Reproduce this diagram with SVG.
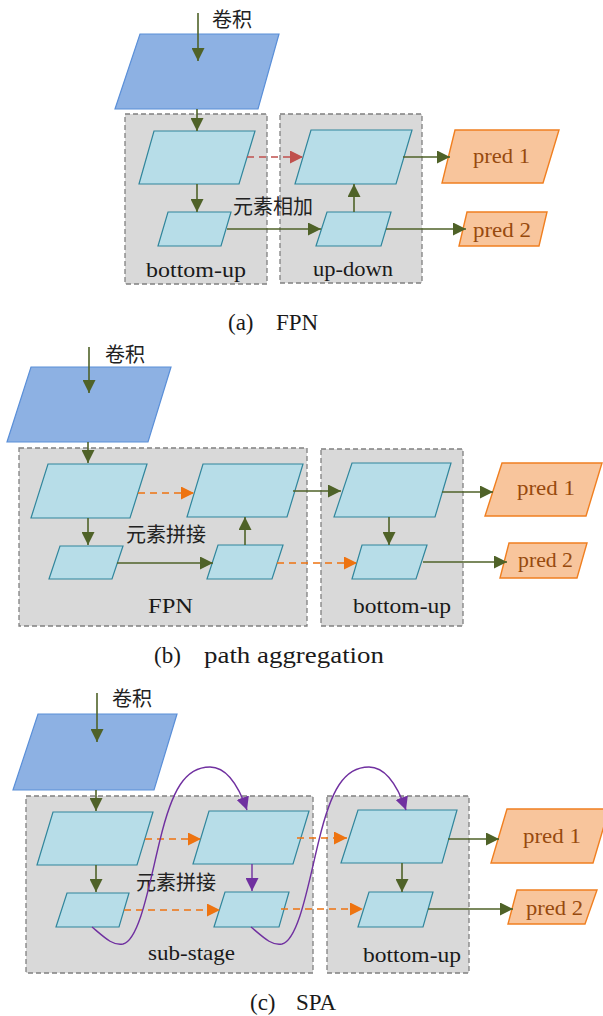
<svg xmlns="http://www.w3.org/2000/svg" width="603" height="1016" viewBox="0 0 603 1016">
<defs>
<marker id="ag" viewBox="0 0 10 10" refX="10" refY="5" markerWidth="13" markerHeight="13" markerUnits="userSpaceOnUse" orient="auto"><path d="M0,0 L10,5 L0,10 z" fill="#4F6228"/></marker>
<marker id="ar" viewBox="0 0 10 10" refX="10" refY="5" markerWidth="13" markerHeight="13" markerUnits="userSpaceOnUse" orient="auto"><path d="M0,0 L10,5 L0,10 z" fill="#C0504D"/></marker>
<marker id="ao" viewBox="0 0 10 10" refX="10" refY="5" markerWidth="13" markerHeight="13" markerUnits="userSpaceOnUse" orient="auto"><path d="M0,0 L10,5 L0,10 z" fill="#EE7310"/></marker>
<marker id="ap" viewBox="0 0 10 10" refX="10" refY="5" markerWidth="13" markerHeight="13" markerUnits="userSpaceOnUse" orient="auto"><path d="M0,0 L10,5 L0,10 z" fill="#7030A0"/></marker>
</defs>
<style>
.grp{fill:#D9D9D9;stroke:#808080;stroke-width:1.3;stroke-dasharray:5,3}
.blue{fill:#8DB1E3;stroke:#5A8FD8;stroke-width:1.2}
.cyan{fill:#B7DDE8;stroke:#31869C;stroke-width:1.2}
.pred{fill:#F8C59C;stroke:#F07F20;stroke-width:1.4}
.g{stroke:#4F6228;stroke-width:1.6;fill:none;marker-end:url(#ag)}
.r{stroke:#C0504D;stroke-width:1.6;fill:none;stroke-dasharray:7,5;marker-end:url(#ar)}
.o{stroke:#EE7310;stroke-width:1.6;fill:none;stroke-dasharray:7,5;marker-end:url(#ao)}
.p{stroke:#7030A0;stroke-width:1.4;fill:none;marker-end:url(#ap)}
.lbl{font-family:"Liberation Serif","Times New Roman","DejaVu Serif",serif;font-size:22px;fill:#1a1a1a}
.pt{font-family:"Liberation Serif","Times New Roman","DejaVu Serif",serif;font-size:22px;fill:#974A0E}
.cap{font-family:"Liberation Serif","Times New Roman","DejaVu Serif",serif;font-size:23px;fill:#1a1a1a}
.cjk{font-family:"Noto Sans CJK SC",sans-serif;font-size:20px;fill:#222}
</style>

<!-- ===== (a) FPN ===== -->
<g id="a-group-bottomup"><rect class="grp" x="125" y="114" width="142" height="170"/><text class="lbl" x="146" y="277" textLength="100" lengthAdjust="spacingAndGlyphs">bottom-up</text></g>
<g id="a-group-updown"><rect class="grp" x="280" y="114" width="142" height="169"/><text class="lbl" x="313" y="276" textLength="80" lengthAdjust="spacingAndGlyphs">up-down</text></g>
<g id="a-input"><polygon class="blue" points="140,34 279,34 258,109 115,109"/></g>
<g id="a-c1"><polygon class="cyan" points="154,131 255,131 239,184 139,184"/></g>
<g id="a-c2"><polygon class="cyan" points="168,212 231,212 221,246 158,246"/></g>
<g id="a-c3"><polygon class="cyan" points="311,130 412,130 396,184 295,184"/></g>
<g id="a-c4"><polygon class="cyan" points="327,212 391,212 381,246 316,246"/></g>
<g id="a-pred1"><polygon class="pred" points="455,130 559,130 543,183 442,183"/><text class="pt" x="473" y="163" textLength="57" lengthAdjust="spacingAndGlyphs">pred 1</text></g>
<g id="a-pred2"><polygon class="pred" points="467,212 547,212 539,246 459,246"/><text class="pt" x="473" y="237" textLength="58" lengthAdjust="spacingAndGlyphs">pred 2</text></g>
<g id="a-labels"><text class="cjk" x="212" y="27">卷积</text><text class="cjk" x="233" y="214">元素相加</text></g>
<g id="a-connectors">
<line class="g" x1="198" y1="13" x2="198" y2="61"/>
<line class="g" x1="197" y1="109" x2="197" y2="131"/>
<line class="g" x1="197" y1="184" x2="197" y2="212"/>
<line class="r" x1="247" y1="157" x2="303" y2="157"/>
<line class="g" x1="227" y1="229" x2="321" y2="229"/>
<line class="g" x1="354" y1="212" x2="354" y2="184"/>
<line class="g" x1="403" y1="157" x2="450" y2="157"/>
<line class="g" x1="386" y1="229" x2="466" y2="229"/>
</g>
<g id="a-caption"><text class="cap" x="228" y="330">(a)</text><text class="cap" x="276" y="330">FPN</text></g>

<!-- ===== (b) path aggregation ===== -->
<g id="b-group-fpn"><rect class="grp" x="19" y="448" width="288" height="178"/><text class="lbl" x="148" y="613" textLength="45" lengthAdjust="spacingAndGlyphs">FPN</text></g>
<g id="b-group-bottomup"><rect class="grp" x="321" y="449" width="142" height="177"/><text class="lbl" x="353" y="613" textLength="98" lengthAdjust="spacingAndGlyphs">bottom-up</text></g>
<g id="b-input"><polygon class="blue" points="31,367 171,367 148,442 7,442"/></g>
<g id="b-c1"><polygon class="cyan" points="48,464 147,464 130,518 31,518"/></g>
<g id="b-c2"><polygon class="cyan" points="60,546 123,546 112,579 49,579"/></g>
<g id="b-c3"><polygon class="cyan" points="203,464 303,464 287,517 187,517"/></g>
<g id="b-c4"><polygon class="cyan" points="218,545 283,545 272,579 207,579"/></g>
<g id="b-c5"><polygon class="cyan" points="352,463 451,463 435,517 334,517"/></g>
<g id="b-c6"><polygon class="cyan" points="362,545 427,545 416,579 352,579"/></g>
<g id="b-pred1"><polygon class="pred" points="502,463 602,463 586,516 485,516"/><text class="pt" x="517" y="495" textLength="58" lengthAdjust="spacingAndGlyphs">pred 1</text></g>
<g id="b-pred2"><polygon class="pred" points="509,543 587,543 577,578 500,578"/><text class="pt" x="518" y="567" textLength="55" lengthAdjust="spacingAndGlyphs">pred 2</text></g>
<g id="b-labels"><text class="cjk" x="126" y="542">元素拼接</text><text class="cjk" x="105" y="362">卷积</text></g>
<g id="b-connectors">
<line class="g" x1="89" y1="347" x2="89" y2="393"/>
<line class="g" x1="88" y1="442" x2="88" y2="463"/>
<line class="g" x1="88" y1="518" x2="88" y2="545"/>
<line class="o" x1="138" y1="493" x2="194" y2="493"/>
<line class="g" x1="117" y1="563" x2="213" y2="563"/>
<line class="g" x1="245" y1="545" x2="245" y2="517"/>
<line class="g" x1="293" y1="491" x2="341" y2="491"/>
<line class="o" x1="277" y1="563" x2="357" y2="563"/>
<line class="g" x1="389" y1="517" x2="389" y2="545"/>
<line class="g" x1="442" y1="492" x2="493" y2="492"/>
<line class="g" x1="423" y1="562" x2="507" y2="562"/>
</g>
<g id="b-caption"><text class="cap" x="154" y="663">(b)</text><text class="cap" x="204" y="663" textLength="180" lengthAdjust="spacingAndGlyphs">path aggregation</text></g>

<!-- ===== (c) SPA ===== -->
<g id="c-group-substage"><rect class="grp" x="26" y="796" width="287" height="177"/><text class="lbl" x="148" y="960" textLength="87" lengthAdjust="spacingAndGlyphs">sub-stage</text></g>
<g id="c-group-bottomup"><rect class="grp" x="327" y="796" width="142" height="177"/><text class="lbl" x="363" y="962" textLength="98" lengthAdjust="spacingAndGlyphs">bottom-up</text></g>
<g id="c-input"><polygon class="blue" points="38,714 177,714 154,790 13,790"/></g>
<g id="c-c1"><polygon class="cyan" points="53,812 153,812 137,865 37,865"/></g>
<g id="c-c2"><polygon class="cyan" points="67,893 129,893 119,927 56,927"/></g>
<g id="c-c3"><polygon class="cyan" points="209,811 309,811 293,864 193,864"/></g>
<g id="c-c4"><polygon class="cyan" points="225,892 289,892 279,927 214,927"/></g>
<g id="c-c5"><polygon class="cyan" points="358,810 457,810 442,863 341,863"/></g>
<g id="c-c6"><polygon class="cyan" points="369,892 433,892 423,927 358,927"/></g>
<g id="c-pred1"><polygon class="pred" points="507,809 609,809 593,863 491,863"/><text class="pt" x="523" y="843" textLength="58" lengthAdjust="spacingAndGlyphs">pred 1</text></g>
<g id="c-pred2"><polygon class="pred" points="517,890 597,890 585,924 508,924"/><text class="pt" x="526" y="915" textLength="57" lengthAdjust="spacingAndGlyphs">pred 2</text></g>
<g id="c-labels"><text class="cjk" x="112" y="706">卷积</text><text class="cjk" x="136" y="890">元素拼接</text></g>
<g id="c-connectors">
<line class="g" x1="97" y1="693" x2="97" y2="742"/>
<line class="g" x1="96" y1="790" x2="96" y2="811"/>
<line class="g" x1="96" y1="865" x2="96" y2="892"/>
<line class="o" x1="145" y1="839" x2="201" y2="839"/>
<line class="o" x1="124" y1="910" x2="220" y2="910"/>
<line class="p" x1="252" y1="864" x2="252" y2="891"/>
<line class="o" x1="297" y1="838" x2="347" y2="838"/>
<line class="o" x1="281" y1="909" x2="363" y2="909"/>
<line class="g" x1="402" y1="863" x2="402" y2="892"/>
<line class="g" x1="448" y1="839" x2="499" y2="839"/>
<line class="g" x1="428" y1="909" x2="513" y2="909"/>
<path class="p" d="M92,927 C105,938 113,946 123,944 C140,940 150,880 160,840 C172,790 185,767 210,767 C228,767 240,790 247,810"/>
<path class="p" d="M251,927 C264,938 272,946 282,944 C299,940 309,880 319,840 C331,790 344,767 369,767 C387,767 399,790 406,810"/>
</g>
<g id="c-caption"><text class="cap" x="250" y="1010">(c)</text><text class="cap" x="296" y="1010">SPA</text></g>
</svg>
